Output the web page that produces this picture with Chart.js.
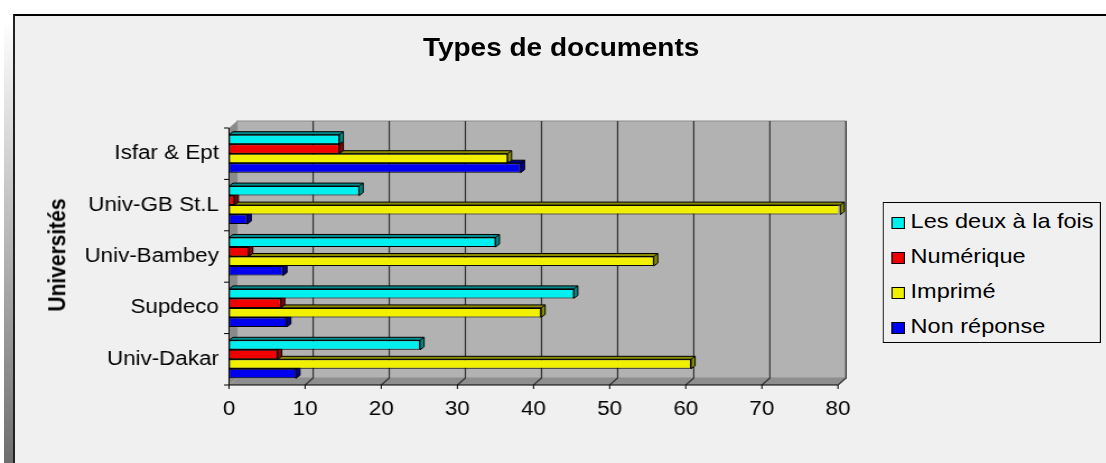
<!DOCTYPE html>
<html lang="fr">
<head>
    <meta charset="UTF-8">
    <title>Types de documents</title>
    <script src="https://cdn.jsdelivr.net/npm/chart.js"></script>
    <style>
        * {
            margin: 0;
            padding: 0;
            box-sizing: border-box;
        }

        body {
            width: 1106px;
            height: 463px;
            overflow: hidden;
            background: #fff;
            font-family: "Liberation Sans", Arial, sans-serif;
            position: relative;
        }

        /* left shadow of the frame */
        .shadow {
            position: absolute;
            left: 4px;
            top: 20px;
            width: 10px;
            height: 443px;
            background: linear-gradient(#ffffff, #6e6e6e);
        }

        .frame {
            position: absolute;
            left: 13px;
            top: 14px;
            width: 1100px;
            height: 460px;
            background: #f0f0f0;
            border-top: 2px solid #000;
            border-left: 2px solid #222;
        }

        /* everything in here is stretched like the original picture */
        .stage {
            position: absolute;
            left: 0;
            top: 0;
            width: 988px;
            height: 463px;
            transform: scaleX(1.12);
            transform-origin: 0 0;
        }

        .stage canvas {
            position: absolute;
            left: 0;
            top: 0;
        }

        .title {
            position: absolute;
            left: 0;
            width: 1002px;
            top: 35px;
            text-align: center;
            font-size: 25px;
            line-height: 25px;
            font-weight: bold;
            color: #000;
        }

        .axis-title {
            position: absolute;
            left: 51px;
            top: 255px;
            font-size: 21px;
            line-height: 21px;
            font-weight: bold;
            white-space: nowrap;
            transform: translate(-50%, -50%) rotate(-90deg);
        }

        .legend {
            position: absolute;
            left: 788px;
            top: 202px;
            width: 195px;
            height: 141px;
            border: 1px solid #000;
            background: #f0f0f0;
        }

        .legend .item {
            position: absolute;
            left: 7px;
            height: 22px;
            display: flex;
            align-items: center;
            font-size: 21px;
            white-space: nowrap;
        }

        .legend .box {
            width: 12px;
            height: 12px;
            border: 1px solid #000;
            margin-right: 5px;
            margin-top: 3px;
        }
    </style>
</head>
<body>
    <div class="shadow"></div>
    <div class="frame"></div>
    <div class="stage">
        <canvas id="chart" width="988" height="463"></canvas>
        <div class="title">Types de documents</div>
        <div class="axis-title">Universités</div>
        <div class="legend" id="legend"></div>
    </div>

    <script>
        const S = 1.12; // horizontal stretch of the original picture

        const universites = ['Isfar & Ept', 'Univ-GB St.L', 'Univ-Bambey', 'Supdeco', 'Univ-Dakar'];
        const lesDeux = [14.5, 17.1, 35.0, 45.3, 25.1];
        const numerique = [14.5, 0.7, 2.6, 6.8, 6.4];
        const imprime = [36.6, 80.3, 55.8, 41.0, 60.7];
        const nonReponse = [38.3, 2.4, 7.1, 7.6, 8.8];
        const seriesNames = ['Les deux à la fois', 'Numérique', 'Imprimé', 'Non réponse'];
        const colors = ['#00f0f0', '#f00000', '#f0f000', '#0000f0'];
        const sideColors = ['#008a8a', '#8a0000', '#8a8a00', '#00008a'];

        const font = { family: '"Liberation Sans", Arial, sans-serif', size: 20 };

        // back wall, floor, left wall, grid and bar sides
        const threeD = {
            id: 'threeD',
            beforeDatasetsDraw(chart) {
                const { ctx, chartArea: a, scales: { x, y } } = chart;
                const dx = 8 / S, dy = -7;
                ctx.save();

                ctx.fillStyle = '#b2b2b2';
                ctx.fillRect(a.left + dx, a.top + dy, a.right - a.left, a.bottom - a.top);
                ctx.strokeStyle = '#8c8c8c';
                ctx.lineWidth = 1;
                ctx.strokeRect(a.left + dx, a.top + dy, a.right - a.left, a.bottom - a.top);

                // left wall
                ctx.fillStyle = '#8a8a8a';
                ctx.beginPath();
                ctx.moveTo(a.left, a.top);
                ctx.lineTo(a.left + dx, a.top + dy);
                ctx.lineTo(a.left + dx, a.bottom + dy);
                ctx.lineTo(a.left, a.bottom);
                ctx.closePath();
                ctx.fill();

                // floor
                ctx.fillStyle = '#8e8e8e';
                ctx.beginPath();
                ctx.moveTo(a.left, a.bottom);
                ctx.lineTo(a.left + dx, a.bottom + dy);
                ctx.lineTo(a.right + dx, a.bottom + dy);
                ctx.lineTo(a.right, a.bottom);
                ctx.closePath();
                ctx.fill();

                // grid lines
                ctx.strokeStyle = '#333';
                ctx.lineWidth = 1.2;
                x.ticks.forEach(t => {
                    if (t.value === 0) return;
                    const px = x.getPixelForValue(t.value);
                    ctx.beginPath();
                    ctx.moveTo(px + dx, a.top + dy);
                    ctx.lineTo(px + dx, a.bottom + dy);
                    ctx.lineTo(px, a.bottom);
                    ctx.stroke();
                });

                // axes
                ctx.strokeStyle = '#000';
                ctx.lineWidth = 1;
                ctx.beginPath();
                ctx.moveTo(a.left, a.top);
                ctx.lineTo(a.left, a.bottom);
                ctx.lineTo(a.right, a.bottom);
                const n = universites.length;
                for (let i = 0; i <= n; i++) {
                    const py = a.top + i * (a.bottom - a.top) / n;
                    ctx.moveTo(a.left - 5 / S, py);
                    ctx.lineTo(a.left, py);
                }
                x.ticks.forEach(t => {
                    const px = x.getPixelForValue(t.value);
                    ctx.moveTo(px, a.bottom);
                    ctx.lineTo(px, a.bottom + 4);
                });
                ctx.stroke();

                // bar depth, lowest bar first so upper bars hide it
                const bx = 4 / S, by = -3;
                for (let d = chart.data.datasets.length - 1; d >= 0; d--) {
                    chart.getDatasetMeta(d).data.forEach(el => {
                        const p = el.getProps(['x', 'y', 'base', 'height'], true);
                        const l = Math.min(p.base, p.x), r = Math.max(p.base, p.x);
                        const t = p.y - p.height / 2, b = p.y + p.height / 2;
                        ctx.fillStyle = sideColors[d];
                        ctx.strokeStyle = '#000';
                        ctx.beginPath();
                        ctx.moveTo(l, t);
                        ctx.lineTo(l + bx, t + by);
                        ctx.lineTo(r + bx, t + by);
                        ctx.lineTo(r + bx, b + by);
                        ctx.lineTo(r, b);
                        ctx.lineTo(r, t);
                        ctx.closePath();
                        ctx.fill();
                        ctx.stroke();
                        ctx.beginPath();
                        ctx.moveTo(r, t);
                        ctx.lineTo(r + bx, t + by);
                        ctx.stroke();
                    });
                }
                ctx.restore();
            }
        };

        const values = [lesDeux, numerique, imprime, nonReponse];

        new Chart(document.getElementById('chart'), {
            type: 'bar',
            data: {
                labels: universites,
                datasets: values.map((v, i) => ({
                    label: seriesNames[i],
                    data: v,
                    backgroundColor: colors[i],
                    borderColor: '#000',
                    borderWidth: 1,
                    borderSkipped: false,
                    categoryPercentage: 0.74,
                    barPercentage: 1.0
                }))
            },
            options: {
                indexAxis: 'y',
                responsive: false,
                animation: false,
                devicePixelRatio: 1,
                layout: {
                    padding: { left: 0, top: 128, right: 988 - 838 / S, bottom: 0 }
                },
                plugins: {
                    legend: { display: false },
                    title: { display: false },
                    tooltip: { enabled: false }
                },
                scales: {
                    x: {
                        min: 0,
                        max: 80,
                        ticks: { stepSize: 10, font: font, color: '#000', padding: 12 },
                        grid: { display: false, drawTicks: false },
                        border: { display: false },
                        afterFit: s => { s.height = 78; }
                    },
                    y: {
                        ticks: { font: font, color: '#000', padding: 9 },
                        grid: { display: false, drawTicks: false },
                        border: { display: false },
                        afterFit: s => { s.width = 229 / S; }
                    }
                }
            },
            plugins: [threeD]
        });

        // legend
        const legend = document.getElementById('legend');
        const rowTops = [7, 42, 77, 112];
        seriesNames.forEach((name, i) => {
            const item = document.createElement('div');
            item.className = 'item';
            item.style.top = rowTops[i] + 'px';
            item.innerHTML = '<span class="box" style="background:' + colors[i] + '"></span>' + name;
            legend.appendChild(item);
        });
    </script>
</body>
</html>
